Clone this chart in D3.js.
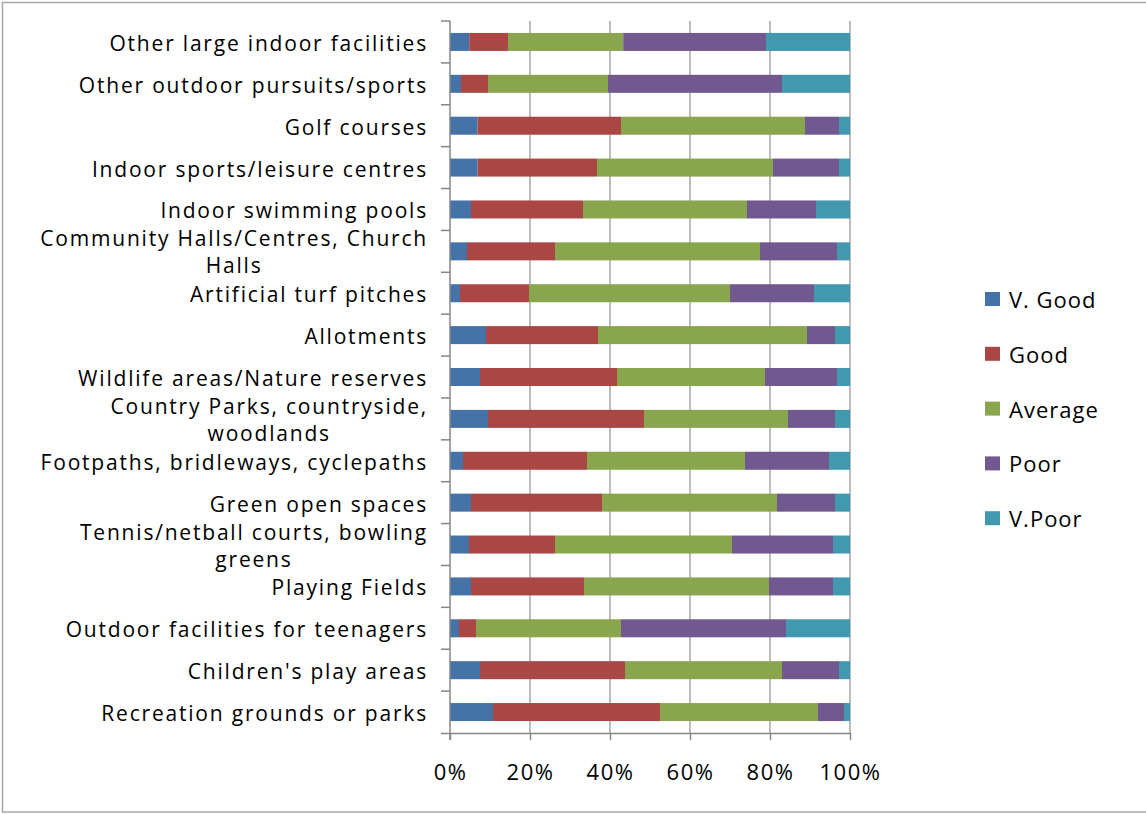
<!DOCTYPE html>
<html>
<head>
<meta charset="utf-8">
<script src="https://cdn.jsdelivr.net/npm/d3@7"></script>
<style>
  html, body { margin: 0; padding: 0; background: #ffffff; }
  svg { display: block; }
  text { font-family: "Open Sans", "Noto Sans", sans-serif; fill: #000; }
</style>
</head>
<body>
<svg id="chart" width="1146" height="814"></svg>
<script>
// Facility categories, listed top to bottom
const categories = [
  "Other large indoor facilities",
  "Other outdoor pursuits/sports",
  "Golf courses",
  "Indoor sports/leisure centres",
  "Indoor swimming pools",
  "Community Halls/Centres, Church|Halls",
  "Artificial turf pitches",
  "Allotments",
  "Wildlife areas/Nature reserves",
  "Country Parks, countryside,|woodlands",
  "Footpaths, bridleways, cyclepaths",
  "Green open spaces",
  "Tennis/netball courts, bowling|greens",
  "Playing Fields",
  "Outdoor facilities for teenagers",
  "Children's play areas",
  "Recreation grounds or parks"
];

const seriesNames = ["V. Good", "Good", "Average", "Poor", "V.Poor"];

// Percentage of responses per rating, in category order
const vGood   = [4.8, 2.75, 6.9, 6.9, 5.25, 4.25, 2.5, 9.0, 7.5, 9.5, 3.25, 5.25, 4.75, 5.25, 2.25, 7.5, 10.75];
const good    = [9.7, 6.75, 35.85, 29.85, 28.0, 22.0, 17.25, 28.0, 34.25, 39.0, 31.0, 32.75, 21.5, 28.25, 4.25, 36.25, 41.75];
const average = [28.8, 30.0, 46.0, 44.0, 41.0, 51.25, 50.25, 52.25, 37.0, 36.0, 39.5, 43.75, 44.25, 46.25, 36.25, 39.25, 39.5];
const poor    = [35.7, 43.5, 8.5, 16.5, 17.25, 19.25, 21.0, 7.0, 18.0, 11.75, 21.0, 14.5, 25.25, 16.0, 41.25, 14.25, 6.5];
const vPoor   = [21.0, 17.0, 2.75, 2.75, 8.5, 3.25, 9.0, 3.75, 3.25, 3.75, 5.25, 3.75, 4.25, 4.25, 16.0, 2.75, 1.5];

const tickValues = [0, 0.2, 0.4, 0.6, 0.8, 1.0];

const colors = ["#4572A7", "#AA4643", "#89A54E", "#71588F", "#4198AF"];

const svg = d3.select("#chart");

// outer frame
svg.append("rect")
  .attr("x", 2.5).attr("y", 2.5)
  .attr("width", 1150).attr("height", 809.5)
  .attr("fill", "none").attr("stroke", "#a6a6a6").attr("stroke-width", 1.5);

const plot = { left: 450, right: 850, top: 21, bottom: 733 };

const x = d3.scaleLinear().domain([0, 1]).range([plot.left, plot.right]);
const y = d3.scaleBand().domain(categories).range([plot.top, plot.bottom]).padding(0);

// build normalised rows
const rows = categories.map((c, i) => {
  const vals = [vGood[i], good[i], average[i], poor[i], vPoor[i]];
  const total = d3.sum(vals);
  const row = { category: c };
  seriesNames.forEach((s, j) => row[s] = vals[j] / total);
  return row;
});
const stacked = d3.stack().keys(seriesNames)(rows);

// vertical gridlines
svg.append("g")
  .selectAll("line")
  .data(tickValues.slice(1))
  .join("line")
  .attr("x1", d => x(d)).attr("x2", d => x(d))
  .attr("y1", plot.top).attr("y2", plot.bottom)
  .attr("stroke", "#a6a6a6").attr("stroke-width", 1.5);

// bars
const barH = y.bandwidth() * 0.43;
svg.append("g")
  .selectAll("g")
  .data(stacked)
  .join("g")
  .attr("fill", (d, i) => colors[i])
  .selectAll("rect")
  .data(d => d)
  .join("rect")
  .attr("x", d => x(d[0]))
  .attr("width", d => x(d[1]) - x(d[0]))
  .attr("y", d => y(d.data.category) + (y.bandwidth() - barH) / 2)
  .attr("height", barH);

// x axis
const xAxis = svg.append("g")
  .attr("transform", `translate(0,${plot.bottom})`)
  .call(d3.axisBottom(x).tickValues(tickValues).tickFormat(d3.format(".0%")).tickSize(7).tickSizeOuter(0));
xAxis.select(".domain").attr("stroke", "#868686").attr("stroke-width", 1.5)
  .attr("d", `M${plot.left - 9},0.5H${plot.right}`);
xAxis.selectAll(".tick line").attr("stroke", "#868686").attr("stroke-width", 1.5);
xAxis.selectAll(".tick text")
  .attr("y", 47).attr("dy", 0)
  .style("font-family", "'Open Sans', sans-serif")
  .style("font-size", "22px")
  .style("letter-spacing", "1.5px")
  .attr("fill", "#000");

// y axis with ticks between categories
const yAxisG = svg.append("g").attr("transform", `translate(${plot.left},0)`);
yAxisG.append("line")
  .attr("x1", 0).attr("x2", 0)
  .attr("y1", plot.top).attr("y2", plot.bottom + 7)
  .attr("stroke", "#868686").attr("stroke-width", 1.5);
yAxisG.selectAll("line.cat")
  .data(categories)
  .join("line")
  .attr("class", "cat")
  .attr("x1", -9).attr("x2", 0)
  .attr("y1", d => y(d)).attr("y2", d => y(d))
  .attr("stroke", "#868686").attr("stroke-width", 1.5);

// category labels
const labelX = 428;
const labels = svg.append("g").selectAll("text")
  .data(categories)
  .join("text")
  .style("font-size", "21px")
  .style("letter-spacing", "1.8px");

labels.each(function (d) {
  const t = d3.select(this);
  const cy = y(d) + y.bandwidth() / 2;
  const parts = d.split("|");
  if (parts.length === 1) {
    t.attr("x", labelX).attr("y", cy + 9).attr("text-anchor", "end").text(parts[0]);
  } else {
    const first = t.append("tspan").attr("x", labelX).attr("y", cy - 5)
      .attr("text-anchor", "end").text(parts[0]);
    const w = first.node().getComputedTextLength();
    t.append("tspan").attr("x", labelX - w / 2).attr("y", cy + 22)
      .attr("text-anchor", "middle").text(parts[1]);
  }
});

// legend
const legend = svg.append("g")
  .selectAll("g")
  .data(seriesNames)
  .join("g")
  .attr("transform", (d, i) => `translate(985,${292 + i * 54.8})`);
legend.append("rect")
  .attr("width", 15).attr("height", 14)
  .attr("fill", (d, i) => colors[i]);
legend.append("text")
  .attr("x", 24).attr("y", 16)
  .style("font-size", "22px")
  .style("letter-spacing", "1px")
  .text(d => d);
</script>
</body>
</html>
